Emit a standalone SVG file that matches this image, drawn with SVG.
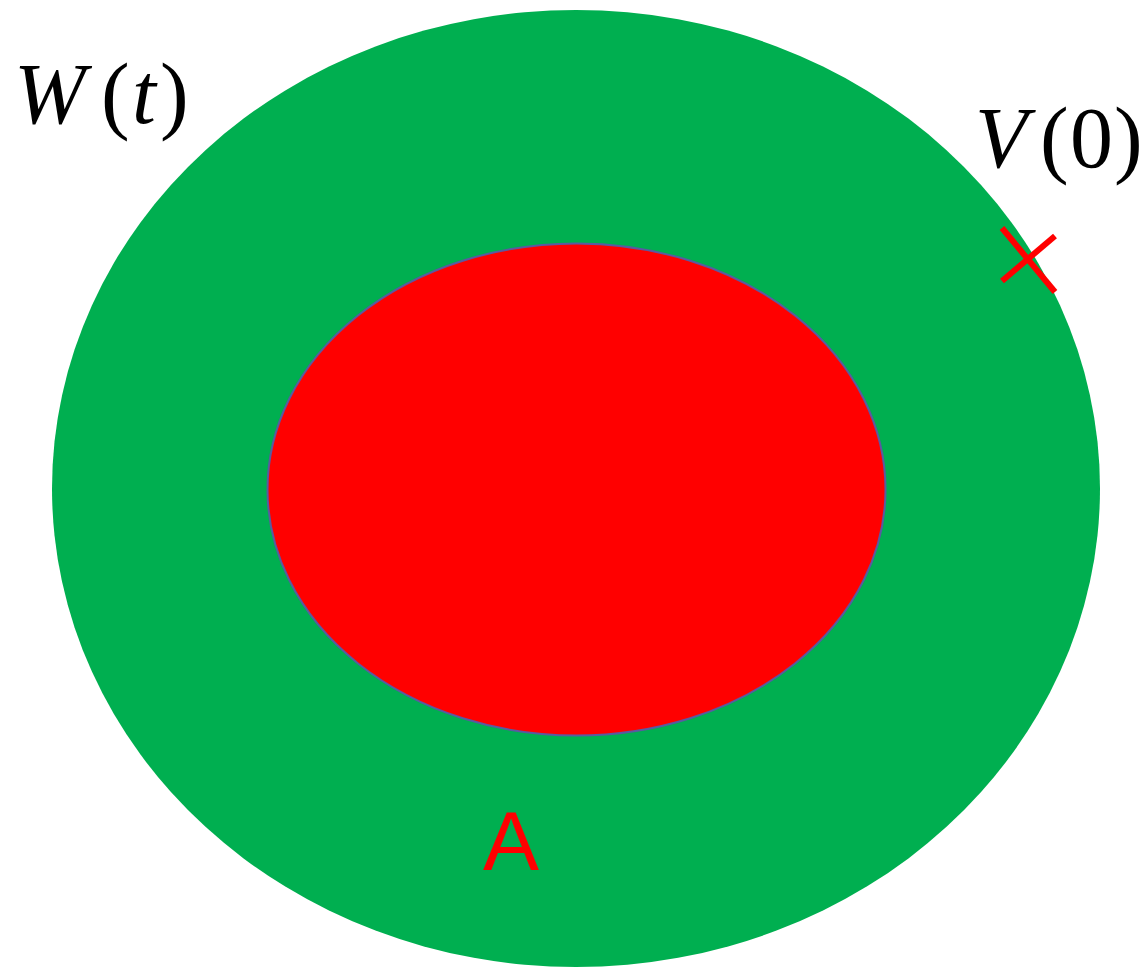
<svg xmlns="http://www.w3.org/2000/svg" width="1148" height="967" viewBox="0 0 1148 967">
<style>
.math{font-family:"Liberation Serif","DejaVu Serif",serif;font-size:86px;fill:#000}
.it{font-style:italic}
</style>
<rect width="1148" height="967" fill="#fff"/>
<g id="outer">
<ellipse cx="576" cy="488.5" rx="524" ry="478.5" fill="#00AF50"/>
</g>
<g id="inner">
<ellipse cx="576.5" cy="489.5" rx="309" ry="246" fill="#FF0000" stroke="#5A5AA0" stroke-width="2"/>
</g>
<g id="labels">
<text class="math" y="123"><tspan class="it" x="14" textLength="86">W</tspan><tspan x="101">(</tspan><tspan class="it" x="132">t</tspan><tspan x="160">)</tspan></text>
<text class="math" y="167"><tspan class="it" x="975">V</tspan><tspan x="1040">(</tspan><tspan x="1070">0</tspan><tspan x="1114">)</tspan></text>
<text x="511" y="870" text-anchor="middle" font-family="Liberation Sans, Arial, sans-serif" font-size="84" fill="#FF0000">A</text>
</g>
<g id="marker" stroke="#FF0000" stroke-width="6">
<line x1="1002" y1="228" x2="1055" y2="292"/>
<line x1="1055" y1="236" x2="1002" y2="281"/>
</g>
</svg>
